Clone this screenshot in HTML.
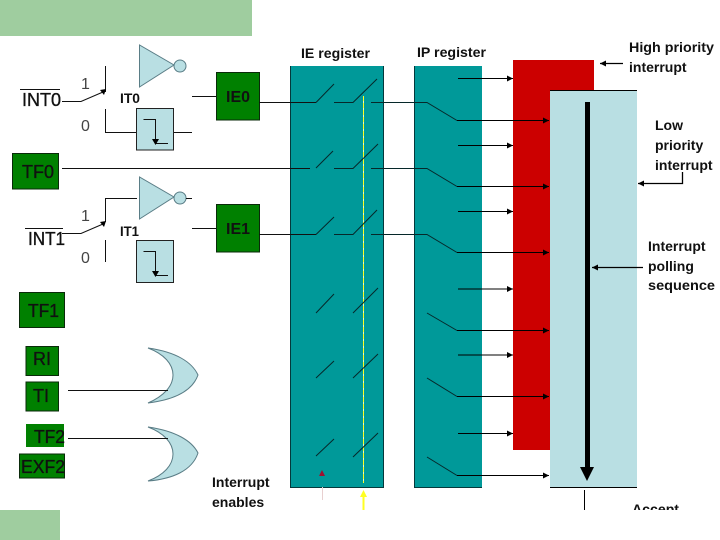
<!DOCTYPE html>
<html><head><meta charset="utf-8"><style>
html,body{margin:0;padding:0;background:#fff}
svg{display:block}
text{font-family:"Liberation Sans",sans-serif;fill:#111}
.b{font-weight:bold;font-size:14px}
.r{font-size:18px;stroke:#111;stroke-width:.35px}
.g{font-weight:bold;font-size:16px}
.n{font-size:16px;fill:#444}
</style></head><body>
<svg width="720" height="540" viewBox="0 0 720 540" xmlns="http://www.w3.org/2000/svg">
<defs>
<marker id="a" markerWidth="7" markerHeight="7" refX="6" refY="3" orient="auto" markerUnits="userSpaceOnUse"><path d="M0 0L6 3L0 6z" fill="#000"/></marker>
</defs>
<rect x="0" y="0" width="252" height="36" fill="#9fcd9f"/>
<rect x="0" y="510" width="60" height="30" fill="#9fcd9f"/>

<!-- panels -->
<rect x="513" y="60" width="81" height="390" fill="#cc0000"/>
<rect x="290.5" y="66" width="93" height="421" fill="#009999"/>
<path d="M290.5 66V487.5H383.5V66" fill="none" stroke="#04393c" stroke-width="1"/>
<rect x="414.5" y="66" width="67.5" height="421" fill="#009999"/>
<path d="M414.5 66V487.5H482" fill="none" stroke="#04393c" stroke-width="1"/>
<rect x="550" y="90.5" width="87" height="397" fill="#b9dfe3"/>
<path d="M550 90.5H637M550 487.5H637" stroke="#000" stroke-width="1"/>

<!-- left gates -->
<g fill="#b9dfe3" stroke="#5a7d86" stroke-width="1">
<path d="M139.5 45V87L174 65z"/><circle cx="180" cy="66" r="6"/>
<path d="M139.5 177V219L174 197z"/><circle cx="180" cy="198" r="6"/>
<path d="M148 348C176 352 192 362 198 375C192 392 172 400 148 403C164 396 173 386 173 375C173 364 164 354 148 348z"/>
<path d="M148 427C176 431 192 441 198 453C192 471 172 479 148 481C164 475 173 465 173 454C173 443 164 433 148 427z"/>
</g>
<g fill="#b9dfe3" stroke="#222" stroke-width="1">
<rect x="136.5" y="108.5" width="37" height="41.5"/>
<rect x="136.5" y="240.5" width="37" height="42"/>
</g>
<g fill="#008000" stroke="#0a2a0a" stroke-width="1">
<rect x="216.5" y="72.5" width="43" height="47.5"/>
<rect x="216.5" y="204.5" width="43" height="47.5"/>
<rect x="12.5" y="153.5" width="46" height="35.5"/>
<rect x="19.5" y="292.5" width="45" height="35"/>
<rect x="26" y="346.5" width="32.5" height="29"/>
<rect x="26" y="382" width="32.5" height="29"/>
<rect x="19.5" y="454" width="45" height="24"/>
</g>
<rect x="26" y="424" width="38" height="23" fill="#008000"/>

<!-- left wires -->
<g fill="none" stroke="#111" stroke-width="1">
<path d="M62 101.5H81L103 92"/>
<path d="M105.5 66V92"/>
<path d="M105.5 109V132.5H136"/>
<path d="M143.5 119.5H155.5V143.5H168" />
<path d="M174 132.5H192M192 96.5H216M259 102.5H316"/>
<path d="M62 168.5H310"/>
<path d="M137 198.5H105.5V222"/>
<path d="M186 198.5H192"/>
<path d="M62 233.5H81L103 224"/>
<path d="M105.5 240V262"/>
<path d="M143.5 251.5H155.5V275.5H168"/>
<path d="M192 228.5H216M259 234.5H316"/>
<path d="M68 390.5H168M68 438.5H168"/>
<path d="M20 89.5H60M25 228.5H63" stroke-width="1"/>
</g>
<path d="M100 90L106 89L104 95z M100 222L106 221L104 227z M152 139H159L155.5 145z M152 271H159L155.5 277z" fill="#000"/>

<!-- yellow guide -->
<line x1="363.5" y1="96" x2="363.5" y2="483" stroke="#e8f8c0" stroke-width="1"/>
<line x1="363.5" y1="96" x2="363.5" y2="483" stroke="#ffff22" stroke-width="1" stroke-dasharray="5 2"/>
<path d="M360 497L363.5 490L367 497z" fill="#ffff22"/>
<rect x="362.5" y="495" width="2" height="15" fill="#ffff22"/>
<path d="M319 476L322 470L325 476z" fill="#a01030"/>
<line x1="322.5" y1="487" x2="322.5" y2="500" stroke="#e8d0d0"/>

<!-- switch lines in registers -->
<g fill="none" stroke="#06282a" stroke-width="1">
<path d="M316 102.5L334 84M334 102.5H353L377 79M371 102.5H427L457 120.5"/>
<path d="M316 168L333 151M334 168.5H353L378 144M371 168.5H427L457 186.5"/>
<path d="M316 234.5L334 217M334 234.5H353L377 210M371 234.5H427L457 252.5"/>
<path d="M316 313L334 294M353 313L378 288M427 313L457 330.5"/>
<path d="M316 378L334 361M353 378L378 354M427 378L457 396.5"/>
<path d="M316 456L334 439M353 457L378 433M427 457L457 475.5"/>
</g>
<g stroke="#000" stroke-width="1">
<line x1="458" y1="78.5" x2="513" y2="78.5" marker-end="url(#a)"/>
<line x1="458" y1="145.5" x2="513" y2="145.5" marker-end="url(#a)"/>
<line x1="458" y1="211.5" x2="513" y2="211.5" marker-end="url(#a)"/>
<line x1="458" y1="289" x2="513" y2="289" marker-end="url(#a)"/>
<line x1="458" y1="355" x2="513" y2="355" marker-end="url(#a)"/>
<line x1="458" y1="433.5" x2="513" y2="433.5" marker-end="url(#a)"/>
<line x1="457" y1="120.5" x2="549" y2="120.5" marker-end="url(#a)"/>
<line x1="457" y1="186.5" x2="549" y2="186.5" marker-end="url(#a)"/>
<line x1="457" y1="252.5" x2="549" y2="252.5" marker-end="url(#a)"/>
<line x1="457" y1="330.5" x2="549" y2="330.5" marker-end="url(#a)"/>
<line x1="457" y1="396.5" x2="549" y2="396.5" marker-end="url(#a)"/>
<line x1="457" y1="475.5" x2="549" y2="475.5" marker-end="url(#a)"/>
</g>

<!-- right side arrows -->
<rect x="585" y="102" width="5" height="366" fill="#000"/>
<path d="M580 467H594L587 481z" fill="#000"/>
<line x1="584.5" y1="490" x2="584.5" y2="510" stroke="#000"/>
<g fill="none" stroke="#000" stroke-width="1.3">
<path d="M623 63.5H600" marker-end="url(#a)"/>
<path d="M682.5 172V183.5H638" marker-end="url(#a)"/>
<path d="M643 267.5H592" marker-end="url(#a)"/>
</g>

<!-- labels -->
<text class="b" x="301" y="58" textLength="69" lengthAdjust="spacingAndGlyphs">IE register</text>
<text class="b" x="417" y="57" textLength="69" lengthAdjust="spacingAndGlyphs">IP register</text>
<text class="b" x="629" y="52" textLength="85" lengthAdjust="spacingAndGlyphs">High priority</text>
<text class="b" x="629" y="72">interrupt</text>
<text class="b" x="655" y="130">Low</text>
<text class="b" x="655" y="150">priority</text>
<text class="b" x="655" y="170">interrupt</text>
<text class="b" x="648" y="251">Interrupt</text>
<text class="b" x="648" y="271">polling</text>
<text class="b" x="648" y="290" textLength="67" lengthAdjust="spacingAndGlyphs">sequence</text>
<text class="b" x="212" y="487">Interrupt</text>
<text class="b" x="212" y="507">enables</text>
<text class="b" x="120" y="103" textLength="20" lengthAdjust="spacingAndGlyphs">IT0</text>
<text class="b" x="120" y="236" textLength="19" lengthAdjust="spacingAndGlyphs">IT1</text>
<text class="r" x="22" y="106" textLength="39" lengthAdjust="spacingAndGlyphs">INT0</text>
<text class="r" x="28" y="245" textLength="37" lengthAdjust="spacingAndGlyphs">INT1</text>
<text class="r" x="22" y="178" textLength="32" lengthAdjust="spacingAndGlyphs">TF0</text>
<text class="r" x="28" y="317" textLength="31" lengthAdjust="spacingAndGlyphs">TF1</text>
<text class="r" x="33" y="365" textLength="18" lengthAdjust="spacingAndGlyphs">RI</text>
<text class="r" x="33" y="402" textLength="16" lengthAdjust="spacingAndGlyphs">TI</text>
<text class="r" x="34" y="443" textLength="31" lengthAdjust="spacingAndGlyphs">TF2</text>
<text class="r" x="21" y="473" textLength="44" lengthAdjust="spacingAndGlyphs">EXF2</text>
<text class="g" x="226" y="102" textLength="24" lengthAdjust="spacingAndGlyphs">IE0</text>
<text class="g" x="226" y="234" textLength="24" lengthAdjust="spacingAndGlyphs">IE1</text>
<text class="n" x="81" y="89">1</text>
<text class="n" x="81" y="131">0</text>
<text class="n" x="81" y="221">1</text>
<text class="n" x="81" y="263">0</text>
<text class="b" x="632" y="514" textLength="47" lengthAdjust="spacingAndGlyphs">Accept</text>
<rect x="600" y="510" width="120" height="30" fill="#fff"/>
</svg>
</body></html>
